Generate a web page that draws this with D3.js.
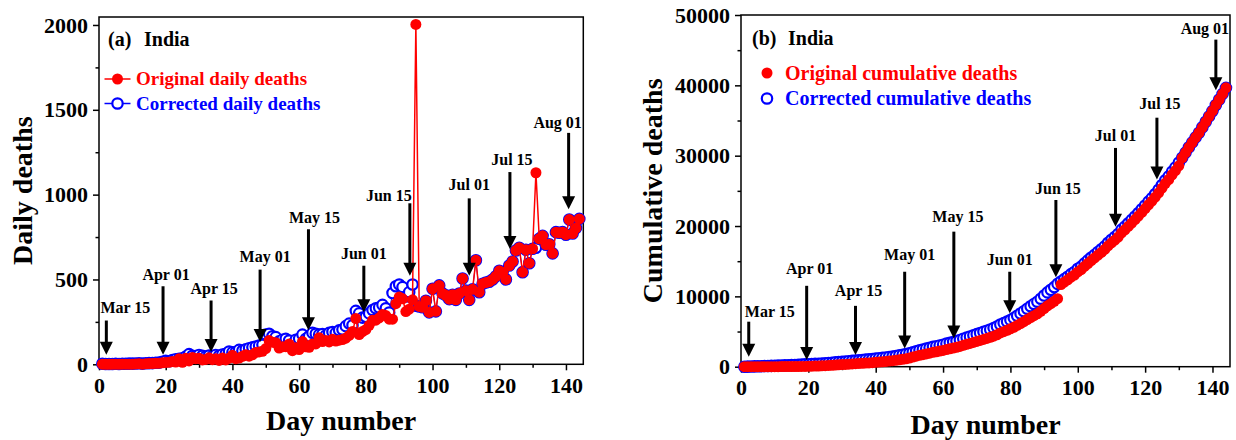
<!DOCTYPE html>
<html><head><meta charset="utf-8">
<script src="https://cdn.jsdelivr.net/npm/d3@7"></script>
<style>
body{margin:0;background:#fff}
svg{display:block}
text{font-family:"Liberation Serif","Times New Roman",serif;font-weight:bold}
</style>
</head><body>
<svg id="c" width="1236" height="440"></svg>
<script>
// ---------------- DATA ----------------
const days = [1,2,3,4,5,6,7,8,9,10,11,12,13,14,15,16,17,18,19,20,21,22,23,24,25,26,27,28,29,30,
31,32,33,34,35,36,37,38,39,40,41,42,43,44,45,46,47,48,49,50,51,52,53,54,55,56,57,58,59,60,
61,62,63,64,65,66,67,68,69,70,71,72,73,74,75,76,77,78,79,80,81,82,83,84,85,86,87,88,89,90,
91,92,93,94,95,96,97,98,99,100,101,102,103,104,105,106,107,108,109,110,111,112,113,114,115,116,117,118,119,120,
121,122,123,124,125,126,127,128,129,130,131,132,133,134,135,136,137,138,139,140,141,142,143,144];

const originalDaily = [1,0,0,0,1,0,1,1,1,1,2,3,1,3,4,4,6,6,
9,11,12,16,13,32,12,35,20,40,33,35,26,29,38,27,33,23,37,26,36,53,33,37,47,57,48,56,70,73,
77,93,140,130,127,96,103,104,119,80,97,87,134,103,100,120,120,157,134,140,132,148,137,142,146,154,170,194,270,175,193,
204,230,259,260,273,294,287,266,266,357,396,386,311,325,380,2003,
341,336,375,306,445,312,465,418,407,384,410,380,417,506,434,380,442,613,425,475,482,487,500,519,551,
543,500,582,606,671,687,543,675,596,681,1129,740,757,705,708,654,779,775,779,764,853,771,803,857];

const correctedDaily = [3,2,2,2,3,2,3,3,4,4,5,6,4,6,7,7,9,10,
15,20,18,25,30,32,35,45,60,50,48,55,50,45,52,48,55,50,58,62,75,70,72,85,80,88,95,100,105,110,
115,175,180,165,160,135,145,150,140,120,145,150,175,150,165,185,180,175,178,170,185,190,185,200,205,225,240,230,315,300,275,
280,300,320,330,335,350,330,305,420,460,470,455,400,425,470,345,
341,336,375,306,445,312,465,418,407,384,410,380,417,506,434,380,442,613,425,475,482,487,500,519,551,
543,500,582,606,671,687,543,675,596,681,687,740,757,705,708,654,779,775,779,764,853,771,803,857];

const originalCumulative = [2,2,2,2,3,3,4,5,6,7,9,12,13,16,20,24,30,36,
45,56,68,84,97,129,141,176,196,236,269,304,330,359,397,424,457,480,517,543,579,632,665,702,749,806,854,910,980,1053,
1130,1223,1363,1493,1620,1716,1819,1923,2042,2122,2219,2306,2440,2543,2643,2763,2883,3040,3174,3314,3446,3594,3731,3873,4019,4173,4343,4537,4807,4982,5175,
5379,5609,5868,6128,6401,6695,6982,7248,7514,7871,8267,8653,8964,9289,9669,11672,
12013,12349,12724,13030,13475,13787,14252,14670,15077,15461,15871,16251,16668,17174,17608,17988,18430,19043,19468,19943,
20425,20912,21412,21931,22482,23025,23525,24107,24713,25384,26071,26614,27289,27885,28566,29695,30435,31192,31897,32605,
33259,34038,34813,35592,36356,37209,37980,38783,39640];

const correctedCumulative = [2,12,27,42,58,73,89,105,121,137,154,172,188,206,225,249,275,301,
330,351,373,399,422,464,486,531,561,611,654,699,735,779,832,874,920,956,1006,1045,1094,1160,1206,1256,1316,1386,1449,1520,1605,1693,
1785,1893,2048,2193,2335,2446,2564,2683,2817,2912,3024,3126,3275,3393,3513,3656,3799,3979,4136,4299,4454,4625,4785,4950,5119,5296,5489,5706,5999,6197,6410,
6634,6919,7238,7558,7891,8245,8592,8918,9244,9661,10117,10563,10934,11319,11769,12114,
12455,12791,13166,13472,13917,14229,14694,15112,15519,15903,16313,16693,17110,17616,18050,18430,18872,19485,19910,20385,
20867,21354,21854,22373,22924,23467,23967,24549,25155,25826,26513,27056,27731,28327,29008,
29695,30435,31192,31897,32605,33259,34038,34813,35592,36356,37209,37980,38783,39640];

const xTicks = [0,20,40,60,80,100,120,140];
const xMinorTicks = [10,30,50,70,90,110,130];
const yTicksA = [0,500,1000,1500,2000];
const yMinorA = [250,750,1250,1750];
const yTicksB = [0,10000,20000,30000,40000,50000];
const yMinorB = [5000,15000,25000,35000,45000];

const annDates = ["Mar 15","Apr 01","Apr 15","May 01","May 15","Jun 01","Jun 15","Jul 01","Jul 15","Aug 01"];
const annDayA = [2.2,19.2,33.6,48.3,62.8,79.4,93.2,111,123.2,140.8];
const annTipA = [57,57,72,131,200,307,522,522,679,914];
const annTailA = [258,460,376,558,796,581,949,978,1133,1364];
const annLabelA = [337,528,444,636,865,650,992,1061,1207,1427];
const annDayB = [2.3,19.5,34,48.6,63.2,79.8,93.5,111.2,123.5,141];
const annTipB = [1420,950,1660,2600,4000,7600,12700,19900,26600,39300];
const annTailB = [6400,11500,8650,13500,19200,13500,23700,31100,35400,46500];
const annLabelB = [7830,13900,10800,15900,21400,15300,25300,32900,37400,48100];

// ---------------- STYLE / LAYOUT ----------------
const RED = "#ff0000", BLUE = "#0000ff";
const labelDxA = [19,3,3,5,6,0,-21,0,2,-11];
const labelDxB = [21,3,3,5,4,0,2,0,3,-11];
const svg = d3.select("#c");

function panel(cfg) {
  const x = d3.scaleLinear().domain([0, 145.2]).range([cfg.left, cfg.right]);
  const y = d3.scaleLinear().domain(cfg.yDomain).range([cfg.bottom, cfg.top]);
  const g = svg.append("g");

  // axes
  const xa = g.append("g").attr("transform", `translate(0,${cfg.bottom})`)
    .call(d3.axisBottom(x).tickValues(xTicks).tickSize(6).tickPadding(7).tickFormat(d3.format("d")));
  const xm = g.append("g").attr("transform", `translate(0,${cfg.bottom})`)
    .call(d3.axisBottom(x).tickValues(xMinorTicks).tickSize(3.5).tickFormat(""));
  const ya = g.append("g").attr("transform", `translate(${cfg.left},0)`)
    .call(d3.axisLeft(y).tickValues(cfg.yTicks).tickSize(6).tickPadding(5).tickFormat(d3.format("d")));
  const ym = g.append("g").attr("transform", `translate(${cfg.left},0)`)
    .call(d3.axisLeft(y).tickValues(cfg.yMinor).tickSize(3.5).tickFormat(""));
  [xa, xm, ya, ym].forEach(a => {
    a.select(".domain").remove();
    a.selectAll("line").attr("stroke", "#000").attr("stroke-width", 1.5);
    a.selectAll("text").attr("font-size", 22).attr("fill", "#000")
      .attr("font-family", "Liberation Serif, Times New Roman, serif").attr("font-weight", "bold");
  });

  // frame
  g.append("rect").attr("x", cfg.left).attr("y", cfg.top)
    .attr("width", cfg.right - cfg.left).attr("height", cfg.bottom - cfg.top)
    .attr("fill", "none").attr("stroke", "#000").attr("stroke-width", 1.5);

  // series
  const blueData = days.map((d, i) => [d, cfg.blue[i]]);
  const redData = days.map((d, i) => [d, cfg.red[i]]);
  const line = d3.line().x(d => x(d[0])).y(d => y(d[1]));
  if (cfg.lines) {
    g.append("path").datum(blueData).attr("d", line).attr("fill", "none")
      .attr("stroke", BLUE).attr("stroke-width", 1);
  }
  g.append("g").selectAll("circle").data(blueData).join("circle")
    .attr("cx", d => x(d[0])).attr("cy", d => y(d[1])).attr("r", 5.2)
    .attr("fill", "#fff").attr("stroke", BLUE).attr("stroke-width", 2.2);
  if (cfg.lines) {
    g.append("path").datum(redData).attr("d", line).attr("fill", "none")
      .attr("stroke", RED).attr("stroke-width", 1.5);
  }
  g.append("g").selectAll("circle").data(redData).join("circle")
    .attr("cx", d => x(d[0])).attr("cy", d => y(d[1])).attr("r", 5.5)
    .attr("fill", RED);

  // annotations (arrows)
  const ag = g.append("g");
  annDates.forEach((lab, i) => {
    const ax = x(cfg.annDay[i]);
    const yTip = y(cfg.annTip[i]), yTail = y(cfg.annTail[i]);
    const hw = 13, hh = 13;
    ag.append("line").attr("x1", ax).attr("x2", ax).attr("y1", yTail).attr("y2", yTip - hh + 1)
      .attr("stroke", "#000").attr("stroke-width", 3);
    ag.append("path").attr("d", `M${ax - hw / 2},${yTip - hh}L${ax + hw / 2},${yTip - hh}L${ax},${yTip}Z`)
      .attr("fill", "#000");
    ag.append("text").attr("x", ax + cfg.labelDx[i]).attr("y", y(cfg.annLabel[i]))
      .attr("dy", "0.34em").attr("text-anchor", "middle").attr("font-size", 16)
      .attr("fill", "#000").text(lab);
  });

  // panel tag
  g.append("text").attr("x", cfg.tagX).attr("y", cfg.tagY).attr("font-size", 20).text(cfg.tag);
  g.append("text").attr("x", cfg.tagX + 36).attr("y", cfg.tagY).attr("font-size", 20).text("India");

  // legend
  cfg.legend.forEach((L, i) => {
    const ly = cfg.legY + i * cfg.legStep;
    if (cfg.lines) {
      g.append("line").attr("x1", cfg.legX - 13).attr("x2", cfg.legX + 13).attr("y1", ly).attr("y2", ly)
        .attr("stroke", L.color).attr("stroke-width", 1.5);
    }
    if (L.filled) {
      g.append("circle").attr("cx", cfg.legX).attr("cy", ly).attr("r", 5.5).attr("fill", L.color);
    } else {
      g.append("circle").attr("cx", cfg.legX).attr("cy", ly).attr("r", 5.2)
        .attr("fill", "#fff").attr("stroke", L.color).attr("stroke-width", 2.2);
    }
    g.append("text").attr("x", cfg.legTextX).attr("y", ly).attr("dy", "0.34em")
      .attr("font-size", cfg.legFont).attr("fill", L.color).text(L.text);
  });

  // axis titles
  g.append("text").attr("x", (cfg.left + cfg.right) / 2).attr("y", cfg.xTitleY)
    .attr("text-anchor", "middle").attr("font-size", 28).text("Day number");
  g.append("text").attr("transform", `translate(${cfg.yTitleX},${(cfg.top + cfg.bottom) / 2}) rotate(-90)`)
    .attr("text-anchor", "middle").attr("font-size", 28).text(cfg.yTitle);
}

panel({
  left: 99, right: 583.3, top: 17, bottom: 364.3, yDomain: [0, 2047],
  yTicks: yTicksA, yMinor: yMinorA, red: originalDaily, blue: correctedDaily, lines: true,
  annDay: annDayA, annTip: annTipA, annTail: annTailA, annLabel: annLabelA, labelDx: labelDxA,
  tag: "(a)", tagX: 108, tagY: 46,
  legend: [{text: "Original daily deaths", color: RED, filled: true},
           {text: "Corrected daily deaths", color: BLUE, filled: false}],
  legX: 117.5, legY: 79, legStep: 24.5, legTextX: 136, legFont: 19,
  xTitleY: 430, yTitleX: 32, yTitle: "Daily deaths"
});

panel({
  left: 741, right: 1230, top: 15, bottom: 366.7, yDomain: [0, 50000],
  yTicks: yTicksB, yMinor: yMinorB, red: originalCumulative, blue: correctedCumulative, lines: false,
  annDay: annDayB, annTip: annTipB, annTail: annTailB, annLabel: annLabelB, labelDx: labelDxB,
  tag: "(b)", tagX: 752, tagY: 45,
  legend: [{text: "Original cumulative deaths", color: RED, filled: true},
           {text: "Corrected cumulative deaths", color: BLUE, filled: false}],
  legX: 767, legY: 73, legStep: 25.5, legTextX: 785, legFont: 20,
  xTitleY: 434, yTitleX: 662, yTitle: "Cumulative deaths"
});
</script>
</body></html>
